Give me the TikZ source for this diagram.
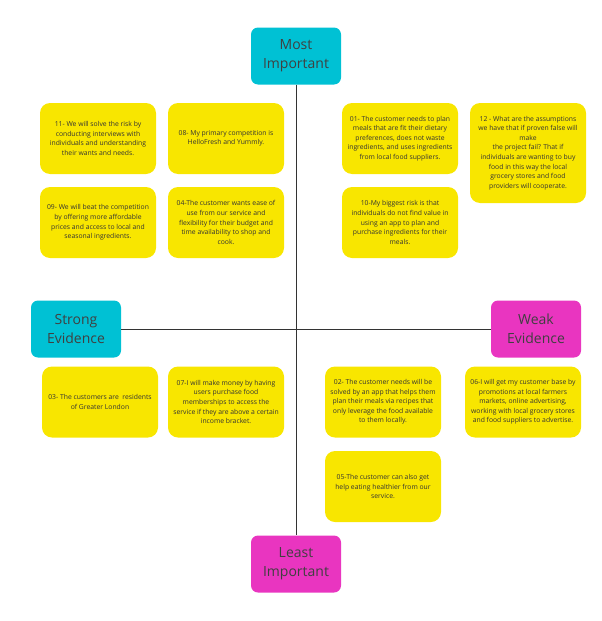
\documentclass[tikz,border=0pt]{standalone}
\usepackage{fontspec}
\setmainfont{Open Sans}
\begin{document}
\begin{tikzpicture}[x=1pt,y=-1pt,
  hdr/.style={rounded corners=7pt, minimum width=90pt, minimum height=57pt, inner sep=0pt, align=center, text=black!75, font=\fontsize{14}{19}\selectfont},
  cyanbox/.style={hdr, fill={rgb,255:red,0;green,193;blue,212}},
  magbox/.style={hdr, fill={rgb,255:red,233;green,53;blue,192}},
  note/.style={rounded corners=10pt, fill={rgb,255:red,248;green,230;blue,0}, minimum width=116pt, minimum height=71pt, inner sep=2pt, align=center, text=black!80, font=\fontsize{6.8}{9.6}\selectfont},
  axis/.style={draw=black!80, line width=0.8pt}]
\useasboundingbox (0,0) rectangle (602,621);
\node[cyanbox] (most) at (296,56) {Most\\Important};
\node[magbox] (least) at (296,564) {Least\\Important};
\node[cyanbox] (strong) at (76,329) {Strong\\Evidence};
\node[magbox] (weak) at (536,329) {Weak\\Evidence};
\draw[axis] (most.south) -- (least.north);
\draw[axis] (strong.east) -- (weak.west);
\node[note] (n11) at (98,138.5) {11- We will solve the risk by\\conducting interviews with\\individuals and understanding\\their wants and needs.};
\node[note] (n08) at (226,138.5) {08- My primary competition is\\HelloFresh and Yummly.};
\node[note] (n09) at (98,222.5) {09- We will beat the competition\\by offering more affordable\\prices and access to local and\\seasonal ingredients.};
\node[note] (n04) at (226,222.5) {04-The customer wants ease of\\use from our service and\\flexibility for their budget and\\time availability to shop and\\cook.};
\node[note] (n01) at (400,138.5) {01- The customer needs to plan\\meals that are fit their dietary\\preferences, does not waste\\ingredients, and uses ingredients\\from local food suppliers.};
\node[note, minimum height=100pt] (n12) at (528,153) {12 - What are the assumptions\\we have that if proven false will\\make\\the project fail? That if\\individuals are wanting to buy\\food in this way the local\\grocery stores and food\\providers will cooperate.};
\node[note] (n10) at (400,222.5) {10-My biggest risk is that\\individuals do not find value in\\using an app to plan and\\purchase ingredients for their\\meals.};
\node[note] (n03) at (100,402) {03- The customers are\ \ residents\\of Greater London};
\node[note] (n07) at (226,402) {07-I will make money by having\\users purchase food\\memberships to access the\\service if they are above a certain\\income bracket.};
\node[note] (n02) at (383,402) {02- The customer needs will be\\solved by an app that helps them\\plan their meals via recipes that\\only leverage the food available\\to them locally.};
\node[note] (n06) at (523,402) {06-I will get my customer base by\\promotions at local farmers\\markets, online advertising,\\working with local grocery stores\\and food suppliers to advertise.};
\node[note] (n05) at (383,486.5) {05-The customer can also get\\help eating healthier from our\\service.};
\end{tikzpicture}
\end{document}
